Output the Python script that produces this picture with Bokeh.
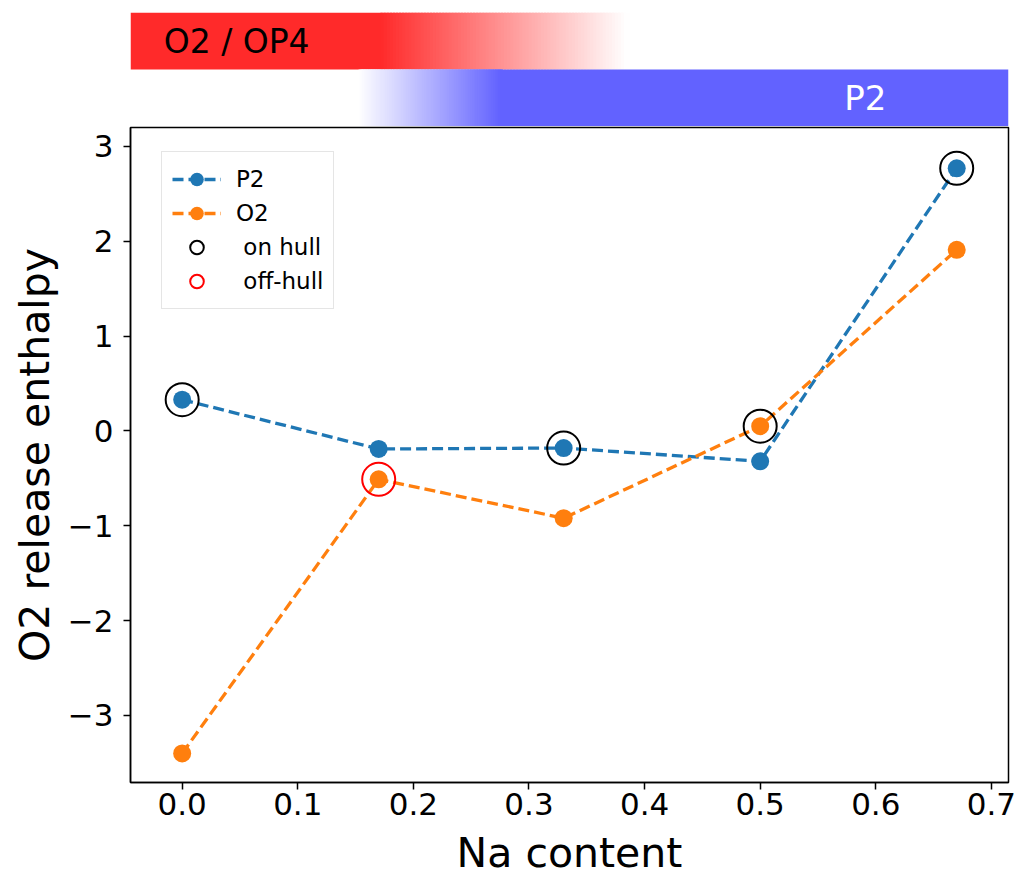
import numpy as np
from bokeh.plotting import figure
from bokeh.layouts import column
from bokeh.models import (ColumnDataSource, FixedTicker, CustomJSTickFormatter,
                          Legend, LegendItem, Range1d, Label)
from bokeh.embed import file_html
from bokeh.resources import INLINE

# ---------------- data ----------------
na_content = [0.0, 0.17, 0.33, 0.50, 0.67]
p2_enthalpy = [0.33, -0.19, -0.18, -0.32, 2.77]
o2_enthalpy = [-3.40, -0.51, -0.92, 0.05, 1.91]

on_hull_x = [0.0, 0.33, 0.50, 0.67]
on_hull_y = [0.33, -0.18, 0.05, 2.77]
off_hull_x = [0.17]
off_hull_y = [-0.51]

x_ticks = [0.0, 0.1, 0.2, 0.3, 0.4, 0.5, 0.6, 0.7]
y_ticks = [-3, -2, -1, 0, 1, 2, 3]

# phase stability regions along Na content (band: solid part, fading part)
o2_label = "O2 / OP4"
o2_solid_end = 0.1715
o2_fade_end = 0.385
p2_label = "P2"
p2_fade_start = 0.1526
p2_solid_start = 0.2753

X_MIN, X_MAX = -0.0447, 0.7148
Y_MIN, Y_MAX = -3.707, 3.20

FONT = "DejaVu Sans"
BLUE = "#1f77b4"
ORANGE = "#ff7f0e"
RED_BAND = (255, 42, 42)
BLUE_BAND = (98, 98, 255)


def blend(rgb, a):
    r, g, b = (int(round(c * a + 255 * (1 - a))) for c in rgb)
    return "#%02x%02x%02x" % (r, g, b)


x_range = Range1d(X_MIN, X_MAX)

# ---------------- top phase strip ----------------
top = figure(frame_width=878, frame_height=114, x_range=x_range,
             y_range=Range1d(0, 2), output_backend="svg",
             toolbar_location=None, x_axis_location=None, y_axis_location=None,
             min_border_left=130, min_border_right=11, min_border_top=12,
             min_border_bottom=0)
top.outline_line_color = None
top.grid.visible = False

n_steps = 80
# red band (O2 / OP4)
top.quad(left=[X_MIN], right=[o2_solid_end + 0.002], bottom=[1], top=[2],
         fill_color=blend(RED_BAND, 1.0), line_color=None)
edges = np.linspace(o2_solid_end, o2_fade_end, n_steps + 1)
mids = np.linspace(1.0, 0.0, n_steps + 1)[:-1] - 0.5 / n_steps
top.quad(left=edges[:-1], right=edges[1:] + 0.002, bottom=1, top=2,
         fill_color=[blend(RED_BAND, max(0.0, a)) for a in mids], line_color=None)
# blue band (P2)
edges_b = np.linspace(p2_fade_start, p2_solid_start, n_steps + 1)
mids_b = np.linspace(0.0, 1.0, n_steps + 1)[:-1] + 0.5 / n_steps
top.quad(left=edges_b[:-1], right=edges_b[1:] + 0.002, bottom=0, top=1,
         fill_color=[blend(BLUE_BAND, min(1.0, a)) for a in mids_b], line_color=None)
top.quad(left=[p2_solid_start], right=[X_MAX], bottom=[0], top=[1],
         fill_color=blend(BLUE_BAND, 1.0), line_color=None)

top.add_layout(Label(x=-0.016, y=1.5, text=o2_label, text_font=FONT,
                     text_font_size="33px", text_color="black",
                     text_align="left", text_baseline="middle"))
top.add_layout(Label(x=0.591, y=0.5, text=p2_label, text_font=FONT,
                     text_font_size="34px", text_color="white",
                     text_align="center", text_baseline="middle"))

# ---------------- main plot ----------------
p = figure(frame_width=878, frame_height=655, x_range=x_range,
           y_range=Range1d(Y_MIN, Y_MAX), output_backend="svg",
           toolbar_location=None, min_border_left=130, min_border_right=11,
           min_border_top=1, min_border_bottom=94)
p.grid.visible = False
p.outline_line_color = "black"
p.outline_line_width = 1.5
p.background_fill_color = "white"

src_p2 = ColumnDataSource(dict(x=na_content, y=p2_enthalpy))
src_o2 = ColumnDataSource(dict(x=na_content, y=o2_enthalpy))

l1 = p.line("x", "y", source=src_p2, line_color=BLUE, line_width=3.3, line_dash="11 5")
s1 = p.scatter("x", "y", source=src_p2, size=18, fill_color=BLUE, line_color=None)
l2 = p.line("x", "y", source=src_o2, line_color=ORANGE, line_width=3.3, line_dash="11 5")
s2 = p.scatter("x", "y", source=src_o2, size=18, fill_color=ORANGE, line_color=None)
h1 = p.scatter(on_hull_x, on_hull_y, size=33, fill_color=None, line_color="black",
               line_width=2)
h2 = p.scatter(off_hull_x, off_hull_y, size=33, fill_color=None, line_color="red",
               line_width=2)

legend = Legend(items=[
    LegendItem(label="P2", renderers=[l1, s1]),
    LegendItem(label="O2", renderers=[l2, s2]),
    LegendItem(label=" on hull", renderers=[h1]),
    LegendItem(label=" off-hull", renderers=[h2]),
], location=(31, 473))
legend.label_text_font = FONT
legend.label_text_font_size = "23px"
legend.label_text_color = "black"
legend.glyph_width = 49
legend.glyph_height = 34
legend.label_height = 34
legend.spacing = 0
legend.padding = 10
legend.margin = 0
legend.label_standoff = 15
legend.border_line_color = "#cccccc"
legend.border_line_width = 1
legend.background_fill_alpha = 0.9
p.add_layout(legend)

p.xaxis.ticker = FixedTicker(ticks=x_ticks)
p.yaxis.ticker = FixedTicker(ticks=y_ticks)
p.xaxis.formatter = CustomJSTickFormatter(code="return tick.toFixed(1);")
p.yaxis.formatter = CustomJSTickFormatter(
    code="return (tick < 0 ? '\\u2212' : '') + Math.abs(tick).toFixed(0);")

for ax in (p.xaxis, p.yaxis):
    ax.axis_line_color = "black"
    ax.axis_line_width = 1.5
    ax.major_tick_line_width = 1.5
    ax.major_tick_out = 7
    ax.major_tick_in = 0
    ax.minor_tick_line_color = None
    ax.major_label_text_font = FONT
    ax.major_label_text_font_size = "31px"
    ax.major_label_text_color = "black"
    ax.axis_label_text_font = FONT
    ax.axis_label_text_font_size = "41px"
    ax.axis_label_text_font_style = "normal"
    ax.axis_label_text_color = "black"

p.xaxis.axis_label = "Na content"
p.yaxis.axis_label = "O2 release enthalpy"
p.xaxis.major_label_standoff = 3
p.xaxis.axis_label_standoff = 11
p.yaxis.major_label_standoff = 10
p.yaxis.axis_label_standoff = 6

layout = column(top, p, spacing=0)
open("out.html", "w").write(file_html(layout, INLINE))
